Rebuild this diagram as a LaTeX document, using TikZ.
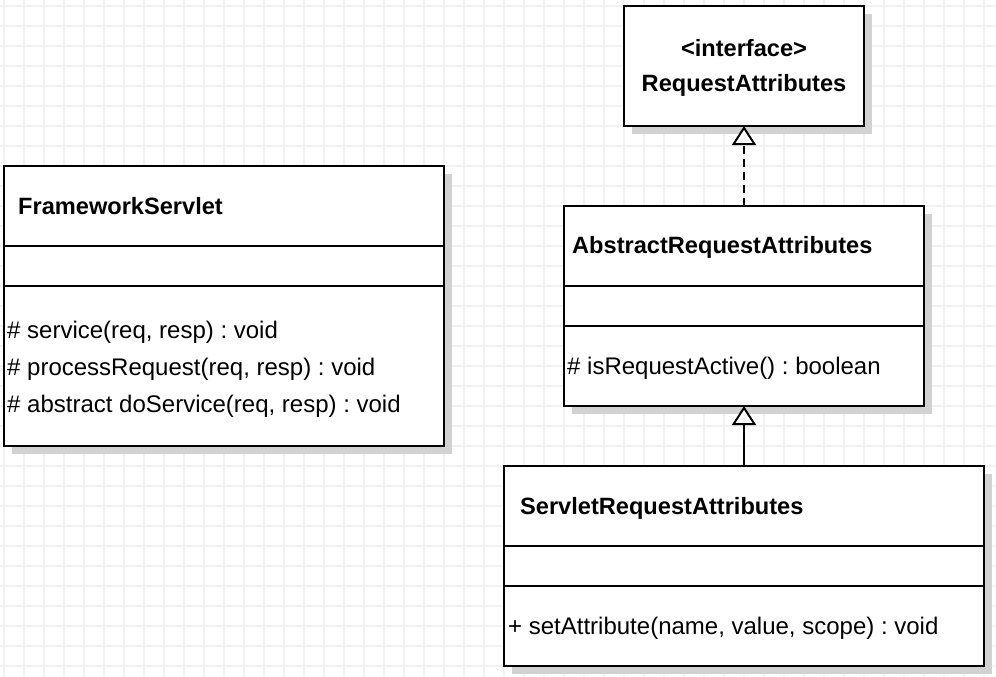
\documentclass[tikz,border=0pt]{standalone}
\usepackage{fontspec}
\setmainfont{Liberation Sans}
\usetikzlibrary{arrows.meta,shadows}
\definecolor{gridc}{RGB}{242,242,242}
\definecolor{shadowc}{RGB}{210,210,210}
\frenchspacing
\begin{document}
\begin{tikzpicture}[x=1pt,y=-1pt,
  gridline/.style={draw=gridc,line width=1.5pt},
  umlbox/.style={draw=black,fill=white,line width=2pt,rectangle,outer sep=0pt,inner sep=0pt,anchor=north west,
    drop shadow={shadow xshift=8pt,shadow yshift=-8pt,fill=shadowc,opacity=1}},
  divider/.style={draw=black,line width=1.5pt},
  titletext/.style={anchor=base west,inner sep=0pt,font=\fontsize{23.6}{28}\selectfont\bfseries},
  ctitletext/.style={anchor=base,inner sep=0pt,font=\fontsize{23.6}{28}\selectfont\bfseries},
  membertext/.style={anchor=base west,inner sep=0pt,font=\fontsize{24}{28}\selectfont},
  inherit/.style={draw=black,line width=2pt,-{Triangle[open,length=19pt,width=24pt,fill=white]}},
  realize/.style={inherit,dash pattern=on 8pt off 5pt}
]
\useasboundingbox (0,0) rectangle (996,677);
\fill[white] (0,0) rectangle (996,677);
\foreach \gx in {4,24,...,994} \draw[gridline] (\gx,0) -- (\gx,677);
\foreach \gy in {6,26,...,676} \draw[gridline] (0,\gy) -- (996,\gy);

% Interface RequestAttributes
\node[umlbox,minimum width=240pt,minimum height=120pt] (ri) at (624,6) {};
\node[ctitletext] (riS) at (744,57) {<interface>};
\node[ctitletext] (riN) at (744,92) {RequestAttributes};

% FrameworkServlet
\node[umlbox,minimum width=440pt,minimum height=280pt] (fs) at (4,166) {};
\draw[divider] ([yshift=-80pt]fs.north west) -- ([yshift=-80pt]fs.north east);
\draw[divider] ([yshift=-120pt]fs.north west) -- ([yshift=-120pt]fs.north east);
\node[titletext] (fsN) at (18,214) {FrameworkServlet};
\node[membertext] (fsM1) at (7,338) {\# service(req, resp) : void};
\node[membertext] (fsM2) at (7,375) {\# processRequest(req, resp) : void};
\node[membertext] (fsM3) at (7,412) {\# abstract doService(req, resp) : void};

% AbstractRequestAttributes
\node[umlbox,minimum width=360pt,minimum height=200pt] (ara) at (564,206) {};
\draw[divider] ([yshift=-80pt]ara.north west) -- ([yshift=-80pt]ara.north east);
\draw[divider] ([yshift=-120pt]ara.north west) -- ([yshift=-120pt]ara.north east);
\node[titletext] (araN) at (572,253) {AbstractRequestAttributes};
\node[membertext] (araM1) at (567,374) {\# isRequestActive() : boolean};

% ServletRequestAttributes
\node[umlbox,minimum width=480pt,minimum height=200pt] (sra) at (504,466) {};
\draw[divider] ([yshift=-80pt]sra.north west) -- ([yshift=-80pt]sra.north east);
\draw[divider] ([yshift=-120pt]sra.north west) -- ([yshift=-120pt]sra.north east);
\node[titletext] (sraN) at (520,514) {ServletRequestAttributes};
\node[membertext] (sraM1) at (508,634) {+ setAttribute(name, value, scope) : void};

% Connectors
\draw[realize] (ara.north) -- (ri.south);
\draw[inherit] (sra.north) -- (ara.south);
\end{tikzpicture}
\end{document}
